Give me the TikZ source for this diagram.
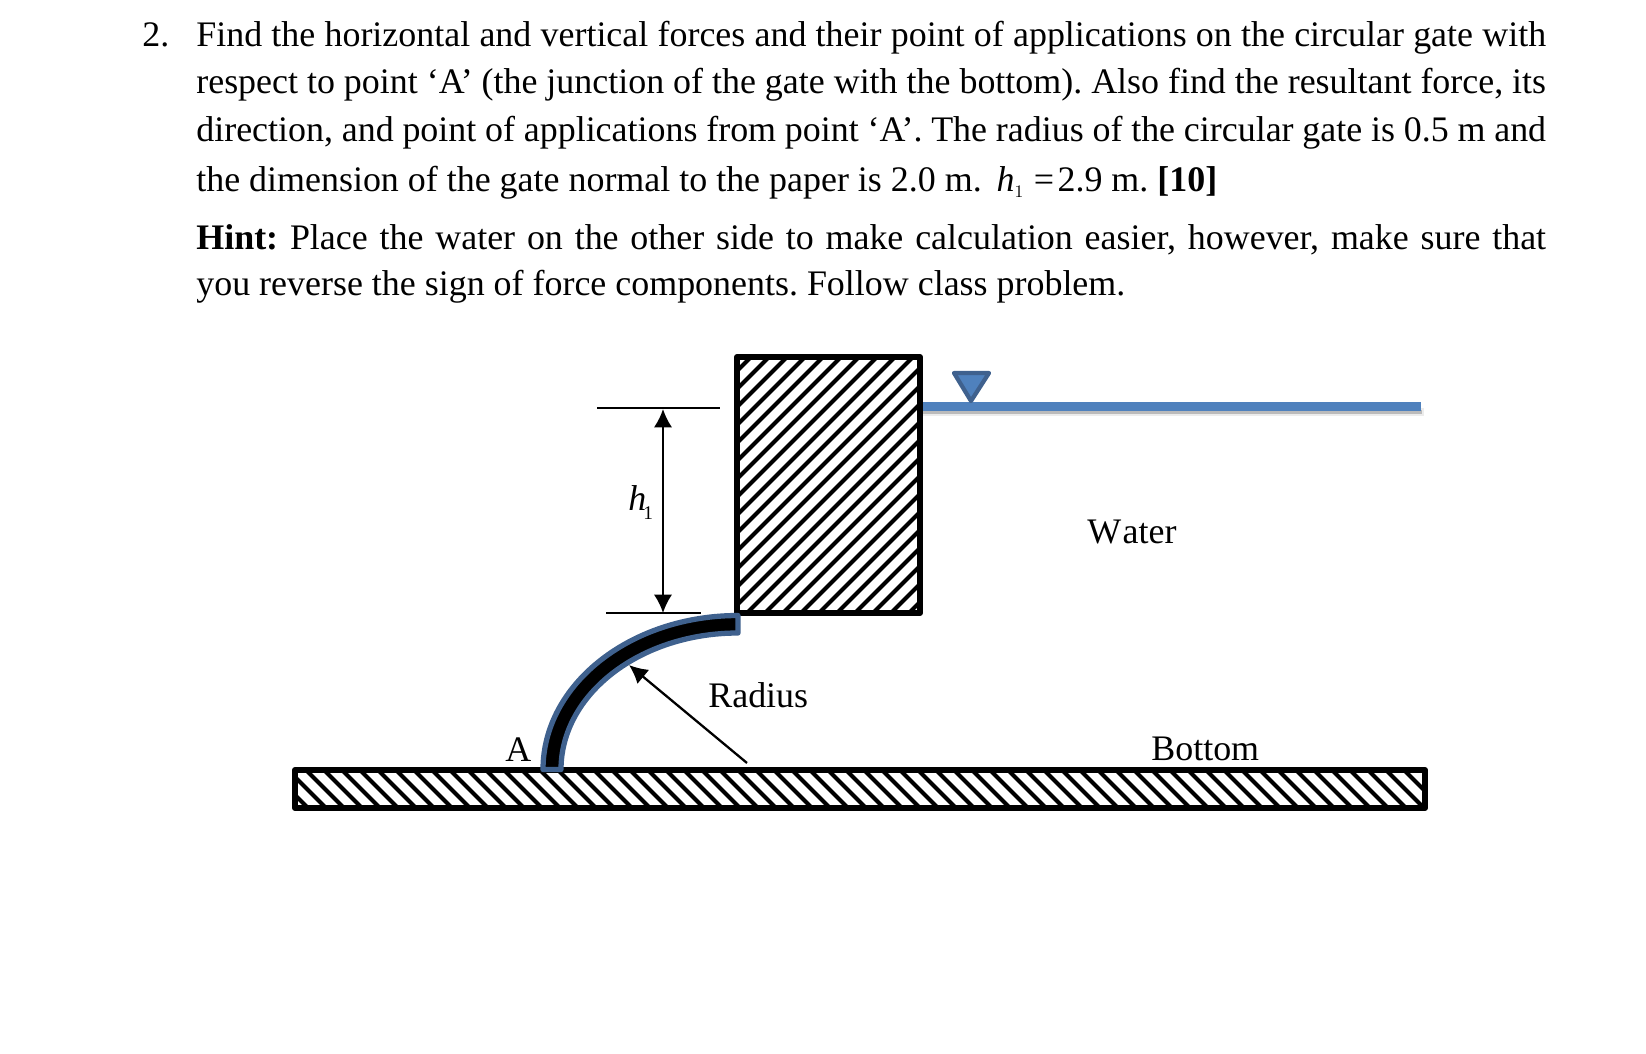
\documentclass[tikz,border=0pt]{standalone}
\usepackage{fontspec}
\setmainfont{Liberation Serif}
\usetikzlibrary{arrows.meta}
\definecolor{waterblue}{HTML}{4F81BD}
\definecolor{gateblue}{HTML}{3F618E}
\frenchspacing
\begin{document}
\begin{tikzpicture}
            [x=0.02cm, y=-0.02cm,
            textline/.style={anchor=base west, inner sep=0pt, font=\fontsize{20.45}{24}\selectfont},
            wall/.style={black, line width=3.4pt, line join=round},
            hatch/.style={black, line width=2.4pt},
            dimline/.style={black, line width=1.3pt},
            gate/.style={fill=black, draw=gateblue, line width=3pt, line join=round},
            water/.style={waterblue, line width=5.1pt}]

            \useasboundingbox (0,0) rectangle (1646,1054);

            % Problem text
            \node[textline] (num) at (142,47) {2.};
            \node[textline] (l1) at (196,47) {\makebox[768.2pt][s]{Find the horizontal and vertical forces and their point of applications on the circular gate with}};
            \node[textline] (l2) at (196,94) {\makebox[768.2pt][s]{respect to point ‘A’ (the junction of the gate with the bottom). Also find the resultant force, its}};
            \node[textline] (l3) at (196,142) {\makebox[768.2pt][s]{direction, and point of applications from point ‘A’. The radius of the circular gate is 0.5 m and}};
            \node[textline] (l4) at (196,192) {the dimension of the gate normal to the paper is 2.0 m.\hspace{8.5pt}$\mathit{h}_{\scriptscriptstyle 1}$\hspace{5.5pt}=\hspace{2pt}2.9 m. \textbf{[10]}};
            \node[textline] (l5) at (196,250) {\makebox[768.2pt][s]{\textbf{Hint:} Place the water on the other side to make calculation easier, however, make sure that}};
            \node[textline] (l6) at (196,296) {you reverse the sign of force components. Follow class problem.};

            % Water surface
            \draw[gray, opacity=0.15, line width=4.5pt] (923,412) -- (1424,412);
            \draw[gray, opacity=0.45, line width=2pt] (923,412) -- (1422,412);
            \coordinate (s1) at (923,406.5);
            \coordinate (s2) at (1421,406.5);
            \draw[water] (s1) -- (s2);
            \draw[fill=waterblue, draw=gateblue, line width=2.4pt, line join=round] (954,373) -- (989,373) -- (971,401) -- cycle;

            % Block with hatching
            \begin{scope}
                \clip (737,357) rectangle (920,613);
                \foreach \i in {-270,-252,...,190} {
                    \draw[hatch] (737+\i,623) -- (737+\i+280,343);
                }
            \end{scope}
            \draw[wall] (737,357) rectangle (920,613);

            % Bottom with hatching
            \begin{scope}
                \clip (295,770) rectangle (1425,808);
                \foreach \i in {0,18,...,1160} {
                    \draw[hatch] (260+\i,760) -- (260+\i+60,820);
                }
            \end{scope}
            \draw[wall] (295,770) rectangle (1425,808);

            % Depth dimension
            \coordinate (d1a) at (597,408);
            \coordinate (d1b) at (720,408);
            \coordinate (d2a) at (606,613);
            \coordinate (d2b) at (701,613);
            \coordinate (t) at (663,409);
            \coordinate (b) at (663,613);
            \draw[dimline] (d1a) -- (d1b);
            \draw[dimline] (d2a) -- (d2b);
            \draw[dimline, {Latex[length=10.5pt,width=10.5pt]}-{Latex[length=10.5pt,width=10.5pt]}] (t) -- (b);
            \node[textline] (h) at (628,510) {$\mathit{h}$};
            \node[anchor=base west, inner sep=0pt, font=\fontsize{11}{13}\selectfont] (one) at (643,519) {1};

            % Gate
            \draw[gate] (738,615.5) arc[start angle=270, end angle=180, x radius=195, y radius=154] -- (561,769.5) arc[start angle=180, end angle=270, x radius=177, y radius=136.5] -- cycle;

            % Radius arrow and labels
            \coordinate (r1) at (747,763);
            \coordinate (r2) at (629,665);
            \draw[black, line width=1.3pt, -{Latex[length=10.5pt,width=10.5pt]}] (r1) -- (r2);
            \node[textline] (radius) at (708,707) {Radius};
            \node[textline] (pointA) at (505,761) {A};
            \node[textline] (bottom) at (1151,760) {Bottom};
            \node[textline] (waterlabel) at (1087,543) {W\kern0.8pt ater};
        \end{tikzpicture}
\end{document}
